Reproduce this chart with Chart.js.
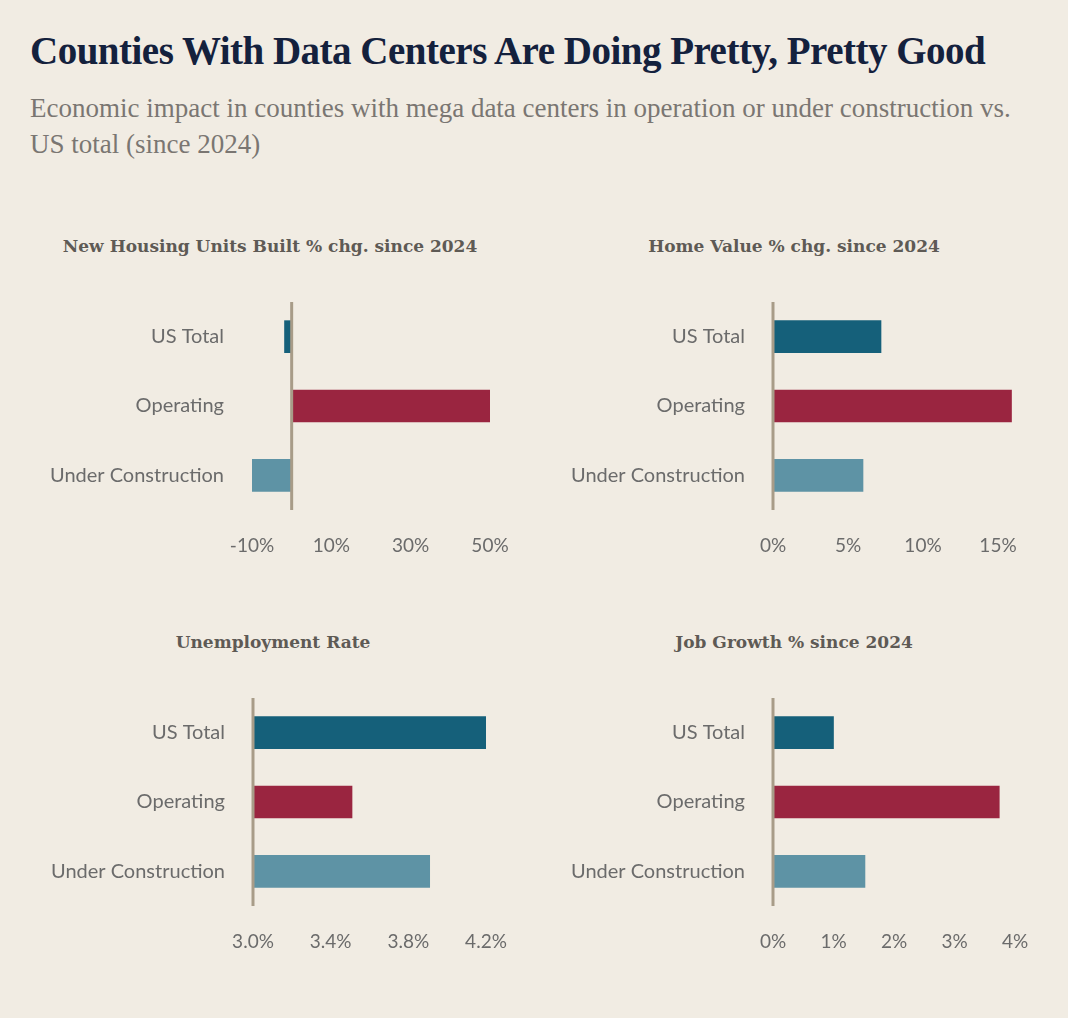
<!DOCTYPE html>
<html><head><meta charset="utf-8">
<script src="https://cdn.jsdelivr.net/npm/chart.js@4"></script>
<style>
body{margin:0;background:#f1ece3;width:1068px;height:1018px;overflow:hidden;position:relative;font-family:Lato,sans-serif}
#t{position:absolute;left:30px;top:28px;font:bold 39px "Liberation Serif",serif;color:#14213d;letter-spacing:-0.5px;white-space:nowrap}
#s{position:absolute;left:30px;top:90px;font:27px/36px "Liberation Serif",serif;color:#7a7672;width:1010px}
.pt{position:absolute;font:bold 17px "DejaVu Serif",serif;color:#5e5a55;text-align:center;width:520px}
canvas{position:absolute}
</style></head><body>
<div id="t">Counties With Data Centers Are Doing Pretty, Pretty Good</div>
<div id="s">Economic impact in counties with mega data centers in operation or under construction vs. US total (since 2024)</div>
<div class="pt" style="left:10px;top:236px">New Housing Units Built % chg. since 2024</div>
<div class="pt" style="left:534px;top:236px">Home Value % chg. since 2024</div>
<div class="pt" style="left:13px;top:632px">Unemployment Rate</div>
<div class="pt" style="left:534px;top:632px">Job Growth % since 2024</div>
<div id="c1" style="position:absolute;left:0;top:270px;width:530px;height:290px"><canvas id="a"></canvas></div>
<div id="c2" style="position:absolute;left:520px;top:270px;width:548px;height:290px"><canvas id="b"></canvas></div>
<div id="c3" style="position:absolute;left:0;top:666px;width:530px;height:290px"><canvas id="c"></canvas></div>
<div id="c4" style="position:absolute;left:520px;top:666px;width:548px;height:290px"><canvas id="d"></canvas></div>
<script>
const categories = ["US Total", "Operating", "Under Construction"];
const housingValues = [-1.8, 50, -10];
const homeValues = [7.2, 15.9, 6.0];
const unemploymentValues = [4.2, 3.51, 3.91];
const jobValues = [1.0, 3.74, 1.52];
const colors = ["#15607a", "#9a2540", "#5e93a5"];

const baseLine = {
  id: 'baseLine',
  afterDatasetsDraw(chart, args, opts) {
    const x = chart.scales.x.getPixelForValue(opts.value);
    const ctx = chart.ctx, a = chart.chartArea;
    ctx.save(); ctx.strokeStyle = '#a89c88'; ctx.lineWidth = 3;
    ctx.beginPath(); ctx.moveTo(x, a.top); ctx.lineTo(x, a.bottom); ctx.stroke(); ctx.restore();
  }
};

function make(id, values, cfg) {
  new Chart(document.getElementById(id), {
    type: 'bar',
    data: { labels: categories, datasets: [{ data: values, backgroundColor: colors, barThickness: 32, base: cfg.base }] },
    plugins: [baseLine],
    options: {
      indexAxis: 'y', responsive: true, maintainAspectRatio: false, animation: false,
      layout: { padding: { left: 0, right: cfg.right, top: 15, bottom: 0 } },
      plugins: { legend: { display: false }, tooltip: { enabled: false }, baseLine: { value: cfg.base } },
      scales: {
        x: {
          min: cfg.min, max: cfg.max,
          grid: { display: false }, border: { display: false },
          afterBuildTicks: s => { s.ticks = cfg.ticks.map(v => ({ value: v })); },
          afterFit: s => { s.height = 50; },
          ticks: { padding: 16, color: '#6b6b6b', font: { family: 'Lato', size: 19 }, maxRotation: 0,
                   callback: v => cfg.fmt(v) }
        },
        y: {
          grid: { display: false }, border: { display: false },
          afterFit: s => { s.width = cfg.yw; },
          ticks: { padding: 20, color: '#6b6b6b', font: { family: 'Lato', size: 20 } }
        }
      }
    }
  });
}
const pct = v => v + '%';
make('a', housingValues, { base: 0, min: -10, max: 50, ticks: [-10, 10, 30, 50], fmt: pct, right: 40, yw: 252 });
make('b', homeValues, { base: 0, min: 0, max: 16, ticks: [0, 5, 10, 15], fmt: pct, right: 55, yw: 253 });
make('c', unemploymentValues, { base: 3.0, min: 3.0, max: 4.2, ticks: [3.0, 3.4, 3.8, 4.2], fmt: v => v.toFixed(1) + '%', right: 44, yw: 253 });
make('d', jobValues, { base: 0, min: 0, max: 4, ticks: [0, 1, 2, 3, 4], fmt: pct, right: 53, yw: 253 });
</script>
</body></html>
